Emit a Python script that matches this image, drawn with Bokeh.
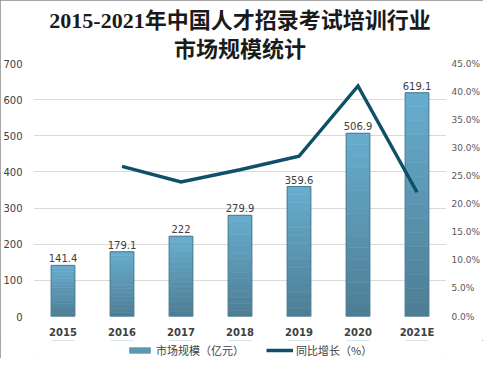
from bokeh.plotting import figure
from bokeh.layouts import column
from bokeh.models import (Range1d, LinearAxis, SingleIntervalTicker, PrintfTickFormatter,
                          ColumnDataSource, Legend, LegendItem, LabelSet, Title, FactorRange)
from bokeh.core.properties import value
from bokeh.embed import file_html
from bokeh.resources import INLINE

years = ["2015", "2016", "2017", "2018", "2019", "2020", "2021E"]
market = [141.4, 179.1, 222, 279.9, 359.6, 506.9, 619.1]
market_labels = ["141.4", "179.1", "222", "279.9", "359.6", "506.9", "619.1"]
growth_years = ["2016", "2017", "2018", "2019", "2020", "2021E"]
growth = [26.7, 23.95, 26.1, 28.5, 41.0, 22.1]

title_line1 = "2015-2021年中国人才招录考试培训行业"
title_line2 = "市场规模统计"
bar_name = "市场规模（亿元）"
line_name = "同比增长（%）"

BAR_FILL = "#5b96b3"
BAR_LINE = "#4a7b92"
LINE_COLOR = "#0e5068"

p = figure(x_range=years, y_range=Range1d(0, 700), width=483, height=340,
           output_backend="svg", toolbar_location=None, title=None,
           min_border_left=33, min_border_right=35, min_border_top=63, min_border_bottom=24)
p.extra_y_ranges = {"pct": Range1d(0, 45)}
p.outline_line_color = None
p.background_fill_color = "white"
p.border_fill_color = "white"

for txt, so in [(title_line2, 4), (title_line1, 0)]:
    t = Title(text=txt, align="center", text_font="Liberation Serif, Noto Sans CJK SC",
              text_font_size="22px", text_font_style="bold", text_color="#1a1a1a",
              standoff=so)
    p.add_layout(t, "above")

# gradient bars (stacked slices computed from values)
N = 16
light = (0x68, 0xad, 0xce)
dark = (0x4d, 0x7d, 0x94)
for k in range(N):
    f = (k + 0.5) / N
    c = tuple(int(round(dark[i] + (light[i] - dark[i]) * f)) for i in range(3))
    col = "#%02x%02x%02x" % c
    src = ColumnDataSource(dict(x=years,
                                bottom=[v * k / N for v in market],
                                top=[v * (k + 1) / N for v in market]))
    p.vbar(x="x", bottom="bottom", top="top", width=0.4, source=src,
           fill_color=col, line_color=col, line_width=0.6)
p.vbar(x=years, top=market, width=0.4, fill_color=None, line_color=BAR_LINE, line_width=1)

lbl_src = ColumnDataSource(dict(x=years, y=market, t=market_labels))
p.add_layout(LabelSet(x="x", y="y", text="t", source=lbl_src, text_align="center",
                      text_baseline="bottom", y_offset=3, text_font=value("DejaVu Sans"),
                      text_font_size=value("10px"), text_color="#404040"))

p.line(x=growth_years, y=growth, y_range_name="pct", line_color=LINE_COLOR,
       line_width=3.5, line_join="miter")

# axes
p.yaxis.ticker = SingleIntervalTicker(interval=100)
ax2 = LinearAxis(y_range_name="pct", ticker=SingleIntervalTicker(interval=5),
                 formatter=PrintfTickFormatter(format="%.1f%%"))
p.add_layout(ax2, "right")
for ax in [p.yaxis[0], ax2, p.xaxis[0]]:
    ax.axis_line_color = None
    ax.major_tick_line_color = None
    ax.minor_tick_line_color = None
    ax.major_tick_out = 0
    ax.major_tick_in = 0
    ax.minor_tick_out = 0
    ax.minor_tick_in = 0
    ax.major_label_text_font = "DejaVu Sans"
    ax.major_label_text_font_size = "10px"
ax2.major_label_text_font_size = "9px"
p.yaxis[0].major_label_standoff = 11
ax2.major_label_standoff = 5
p.yaxis[0].major_label_text_color = "#404040"
ax2.major_label_text_color = "#595959"
p.xaxis.major_label_text_font_style = "bold"
p.xaxis.major_label_text_color = "#404040"
p.xaxis.major_label_standoff = 10
p.xgrid.grid_line_color = None
p.ygrid.grid_line_color = "#d9d9d9"

# legend strip: same series drawn out of view, only the legend shows
p2 = figure(width=483, height=18, x_range=FactorRange(*years), y_range=Range1d(-2000, -1900),
            output_backend="svg", toolbar_location=None, min_border=0,
            x_axis_location=None, y_axis_location=None)
p2.grid.visible = False
p2.outline_line_color = None
p2.background_fill_color = "white"
p2.border_fill_color = "white"
lb = p2.vbar(x=years, top=market, width=0.4, fill_color=BAR_FILL, line_color=None)
ll = p2.line(x=growth_years, y=growth, line_color=LINE_COLOR, line_width=3.5)
legend = Legend(items=[LegendItem(label=bar_name, renderers=[lb]),
                       LegendItem(label=line_name, renderers=[ll])],
                orientation="horizontal", location=(93, 0),
                label_text_font="Noto Sans CJK SC", label_text_font_size="11px",
                label_text_color="#404040", glyph_width=27, glyph_height=8,
                label_standoff=3, spacing=22, padding=1, margin=0,
                border_line_color=None, background_fill_alpha=0)
p2.add_layout(legend, "center")

layout = column(p, p2, spacing=0)
layout.styles = {"outline": "1px solid #8a8a8a", "outline-offset": "-1px"}
open("out.html", "w").write(file_html(layout, INLINE))
